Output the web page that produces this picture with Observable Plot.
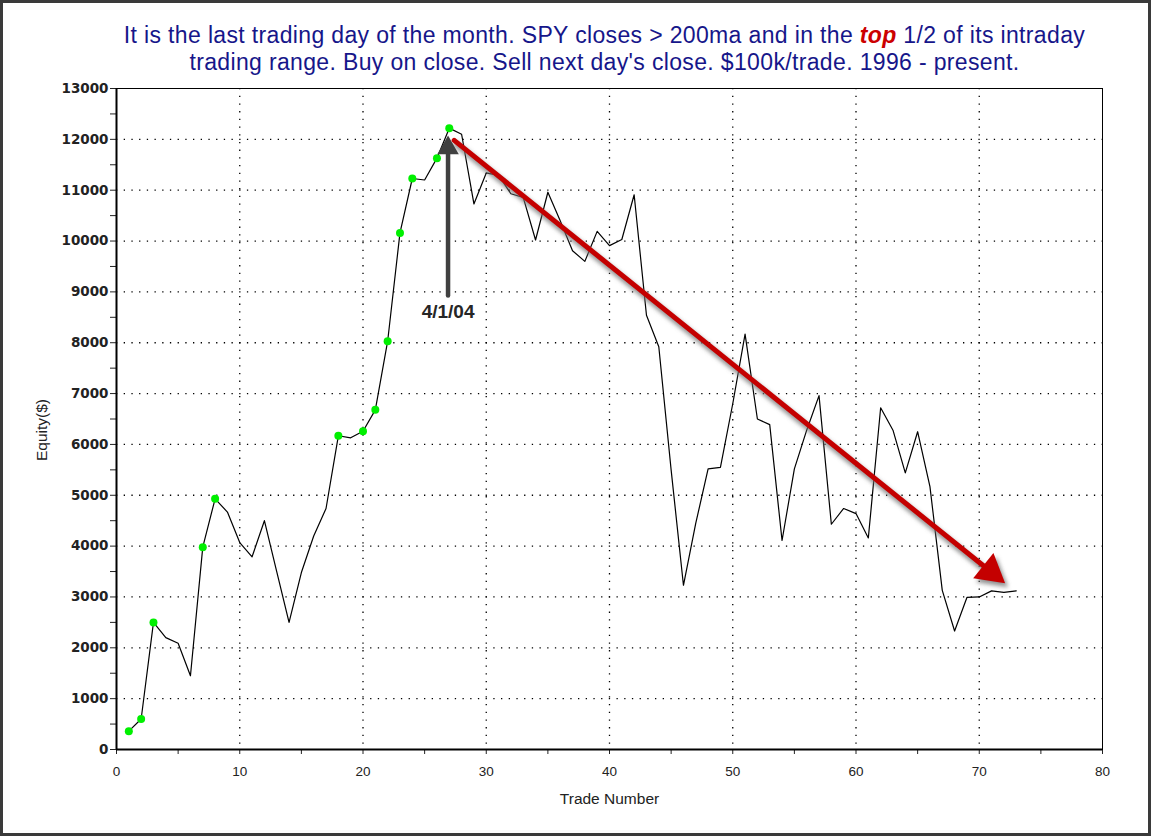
<!DOCTYPE html>
<html>
<head>
<meta charset="utf-8">
<script src="https://cdn.jsdelivr.net/npm/d3@7"></script>
<script src="https://cdn.jsdelivr.net/npm/@observablehq/plot@0.6"></script>
<style>
  html, body { margin: 0; padding: 0; background: #fff; }
  #frame {
    position: relative; width: 1151px; height: 836px; box-sizing: border-box;
    border: 3px solid #3a3a3a; background: #fff; overflow: hidden;
  }
  #title {
    height: 77px; box-sizing: border-box; padding-top: 19px; padding-left: 58px;
    text-align: center; font-family: "Liberation Sans", Arial, sans-serif;
    font-size: 23px; letter-spacing: 0.35px; line-height: 27px; color: #16168a;
  }
  #title .top { color: #cc0000; font-weight: bold; font-style: italic; }
  #chart svg { display: block; }
  #chart g[aria-label="y-axis tick label"] text, #chart g[aria-label="y-axis"] text {
    font-family: "DejaVu Sans", sans-serif; font-weight: bold; font-size: 13.5px; fill: #222;
  }
  #chart g[aria-label="x-axis tick label"] text, #chart g[aria-label="x-axis"] text {
    font-family: "Liberation Sans", Arial, sans-serif; font-size: 13.5px; fill: #222;
  }
</style>
</head>
<body>
<div id="frame">
  <div id="title">It is the last trading day of the month. SPY closes &gt; 200ma and in the <span class="top">top</span> 1/2 of its intraday<br>trading range. Buy on close. Sell next day's close. $100k/trade. 1996 - present.</div>
  <div id="chart"></div>
</div>
<script>
// ---- Data ----
// cumulative equity ($) after each trade; trade number = index + 1
const equity = [
  360, 600, 2500, 2200, 2090, 1450, 3980, 4930, 4670, 4070,
  3790, 4500, 3500, 2500, 3480, 4200, 4740, 6170, 6130, 6260,
  6680, 8030, 10160, 11230, 11200, 11630, 12220, 12100, 10730, 11340,
  11290, 10930, 10860, 10020, 10960, 10400, 9810, 9600, 10190, 9910,
  10030, 10910, 8540, 7920, 5500, 3230, 4450, 5520, 5550, 6800,
  8170, 6500, 6390, 4110, 5520, 6280, 6960, 4430, 4740, 4640,
  4160, 6720, 6280, 5440, 6250, 5170, 3130, 2330, 2990, 3000,
  3120, 3090, 3120
];
// trades that set a new equity high (green markers)
const newHighTrades = [1, 2, 3, 7, 8, 18, 20, 21, 22, 23, 24, 26, 27];

// axis ticks
const xTicks = [0, 5, 10, 15, 20, 25, 30, 35, 40, 45, 50, 55, 60, 65, 70, 75, 80];
const xGrid = [10, 20, 30, 40, 50, 60, 70];
const yTicks = [0, 500, 1000, 1500, 2000, 2500, 3000, 3500, 4000, 4500, 5000, 5500, 6000, 6500,
  7000, 7500, 8000, 8500, 9000, 9500, 10000, 10500, 11000, 11500, 12000, 12500, 13000];
const yGrid = [1000, 2000, 3000, 4000, 5000, 6000, 7000, 8000, 9000, 10000, 11000, 12000];

// annotations
const peakLabel = ["4/1/04"];
const peakArrow = {x: 26.9, yFrom: 8930, yTo: 12075, yLabel: 8610};
const trendArrow = {x1: 27.4, y1: 11980, x2: 72.1, y2: 3270};

// ---- build ----
const rows = equity.map((v, i) => ({trade: i + 1, equity: v}));
const highs = rows.filter(d => newHighTrades.includes(d.trade));

const W = 1145, H = 753, ML = 113, MR = 46, MT = 8, MB = 84;
const pxX = (W - ML - MR) / 80, pxY = (H - MT - MB) / 13000;
const ang = Math.atan2((trendArrow.y1 - trendArrow.y2) * pxY, (trendArrow.x2 - trendArrow.x1) * pxX);
const redR = 12, redApex = 2 * redR * Math.sqrt(Math.PI / (3 * Math.sqrt(3)));
const grayR = 8, grayApex = 2 * grayR * Math.sqrt(Math.PI / (3 * Math.sqrt(3)));
const rot = 90 + ang * 180 / Math.PI;
const hdx = -redApex * Math.cos(ang), hdy = -redApex * Math.sin(ang);

const chart = Plot.plot({
  width: W, height: H,
  marginLeft: ML, marginRight: MR, marginTop: MT, marginBottom: MB,
  style: {fontFamily: "'Liberation Sans', Arial, sans-serif", fontSize: "13px", color: "#222", background: "#fff"},
  x: {domain: [0, 80], ticks: xTicks, tickFormat: d => d % 10 ? "" : String(d), tickSize: 5, tickPadding: 12, label: null},
  y: {domain: [0, 13000], ticks: yTicks, tickFormat: d => d % 1000 ? "" : String(d), tickSize: 6, tickPadding: 2, label: null},
  marks: [
    Plot.ruleY(yGrid, {stroke: "#000", strokeWidth: 1.3, strokeDasharray: "1.3,6.4"}),
    Plot.ruleX(xGrid, {stroke: "#000", strokeWidth: 1.3, strokeDasharray: "1.3,6.4"}),
    Plot.frame({stroke: "#000", strokeWidth: 1}),
    Plot.ruleY([0], {stroke: "#000", strokeWidth: 2}),
    Plot.ruleX([0], {stroke: "#000", strokeWidth: 2}),
    Plot.line(rows, {x: "trade", y: "equity", stroke: "#000", strokeWidth: 1.2}),
    Plot.dot(highs, {x: "trade", y: "equity", r: 4, fill: "#00f000", stroke: null}),
    // red trend arrow: shadow, shaft, head
    Plot.arrow([trendArrow], {x1: "x1", y1: "y1", x2: "x2", y2: "y2", headLength: 0, insetEnd: redApex,
      stroke: "#777", strokeOpacity: 0.8, strokeWidth: 6, dx: 2, dy: 4, ariaDescription: "shadow"}),
    Plot.dot([trendArrow], {x: "x2", y: "y2", symbol: "triangle", r: redR, rotate: rot, fill: "#777", fillOpacity: 0.8,
      stroke: null, dx: hdx + 3, dy: hdy + 4, ariaDescription: "shadow"}),
    Plot.arrow([trendArrow], {x1: "x1", y1: "y1", x2: "x2", y2: "y2", headLength: 0, insetEnd: redApex,
      stroke: "#c40000", strokeWidth: 5}),
    Plot.dot([trendArrow], {x: "x2", y: "y2", symbol: "triangle", r: redR, rotate: rot, fill: "#c40000",
      stroke: null, dx: hdx, dy: hdy}),
    // gray peak arrow
    Plot.arrow([peakArrow], {x1: "x", y1: "yFrom", x2: "x", y2: "yTo", headLength: 0, insetEnd: grayApex,
      stroke: "#888", strokeOpacity: 0.7, strokeWidth: 5, dx: 2, dy: 2, ariaDescription: "shadow"}),
    Plot.arrow([peakArrow], {x1: "x", y1: "yFrom", x2: "x", y2: "yTo", headLength: 0, insetEnd: grayApex,
      stroke: "#404040", strokeWidth: 4.5}),
    Plot.dot([peakArrow], {x: "x", y: "yTo", symbol: "triangle", r: grayR, fill: "#404040", stroke: null, dy: grayApex}),
    Plot.text(peakLabel, {x: peakArrow.x, y: peakArrow.yLabel, text: d => d, fontWeight: "bold", fontSize: 19, fill: "#262626"}),
    // axis titles
    Plot.text(["Equity($)"], {frameAnchor: "left", dx: -74, dy: 42, rotate: -90, fontSize: 15.5, fill: "#222"}),
    Plot.text(["Trade Number"], {frameAnchor: "bottom", dy: 54, fontSize: 15.5, fill: "#222"})
  ]
});

// soft blur for shadows
const ns = "http://www.w3.org/2000/svg";
const defs = document.createElementNS(ns, "defs");
defs.innerHTML = '<filter id="softShadow" x="-20%" y="-20%" width="140%" height="140%"><feGaussianBlur stdDeviation="2.2"/></filter>';
chart.insertBefore(defs, chart.firstChild);
chart.querySelectorAll('g[aria-description="shadow"]').forEach(g => g.setAttribute("filter", "url(#softShadow)"));

document.getElementById("chart").appendChild(chart);
</script>
</body>
</html>
